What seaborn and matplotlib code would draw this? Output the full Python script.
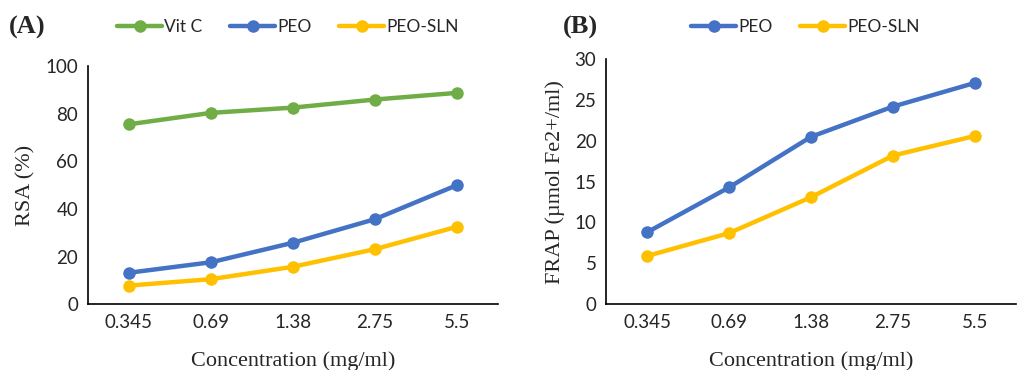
import pandas as pd
import matplotlib.pyplot as plt
import seaborn as sns
from matplotlib.lines import Line2D

# values
conc = ["0.345", "0.69", "1.38", "2.75", "5.5"]
rsa_vitc = [75.6, 80.4, 82.6, 86.0, 88.8]
rsa_peo = [13.2, 17.6, 25.8, 35.7, 50.0]
rsa_sln = [7.8, 10.5, 15.7, 23.1, 32.5]
frap_peo = [8.8, 14.3, 20.5, 24.2, 27.1]
frap_sln = [5.9, 8.7, 13.1, 18.2, 20.6]

colors = {"Vit C": "#70AD47", "PEO": "#4472C4", "PEO-SLN": "#FFC000"}

sns.set_style("white")
plt.rcParams['font.family'] = ['Lato', 'DejaVu Sans']
serif = 'Liberation Serif'

df_a = pd.DataFrame({
    "Concentration": conc * 3,
    "value": rsa_vitc + rsa_peo + rsa_sln,
    "Sample": ["Vit C"] * 5 + ["PEO"] * 5 + ["PEO-SLN"] * 5,
})
df_b = pd.DataFrame({
    "Concentration": conc * 2,
    "value": frap_peo + frap_sln,
    "Sample": ["PEO"] * 5 + ["PEO-SLN"] * 5,
})

fig = plt.figure(figsize=(10.17, 3.70), dpi=100)
ax1 = fig.add_axes([0.0865, 0.178, 0.403, 0.643])
ax2 = fig.add_axes([0.596, 0.178, 0.403, 0.662])

panels = [
    (ax1, df_a, "RSA (%)", (0, 100), range(0, 101, 20), "(A)", 0.009, 0.283),
    (ax2, df_b, "FRAP (µmol Fe2+/ml)", (0, 30), range(0, 31, 5), "(B)", 0.553, 0.792),
]

for ax, df, ylab, ylim, yticks, tag, tagx, legx in panels:
    sns.lineplot(data=df, x="Concentration", y="value", hue="Sample",
                 palette=colors, marker="o", markersize=9, markeredgewidth=0,
                 linewidth=3.2, ax=ax, legend=False, sort=False)
    ax.set_xlim(-0.5, 4.5)
    ax.set_ylim(*ylim)
    ax.set_yticks(list(yticks))
    ax.tick_params(axis='both', length=0, labelsize=13.5, pad=7)
    ax.set_xlabel("Concentration (mg/ml)", fontsize=16, family=serif, labelpad=15)
    ax.set_ylabel(ylab, fontsize=16, family=serif, labelpad=7)
    for s in ["top", "right"]:
        ax.spines[s].set_visible(False)
    for s in ["left", "bottom"]:
        ax.spines[s].set_color("black")
        ax.spines[s].set_linewidth(1.2)

    names = df["Sample"].unique()
    handles = [Line2D([0], [0], color=colors[n], lw=3.2, marker="o",
                      markersize=9, markeredgewidth=0) for n in names]
    fig.legend(handles, names, loc="center", bbox_to_anchor=(legx, 0.927),
               ncol=len(names), frameon=False, fontsize=12.5, handlelength=2.6,
               handletextpad=0.1, columnspacing=1.6)
    fig.text(tagx, 0.927, tag, fontsize=19, fontweight="bold", family=serif,
             va="center", ha="left")

plt.savefig("out.png", dpi=100)
